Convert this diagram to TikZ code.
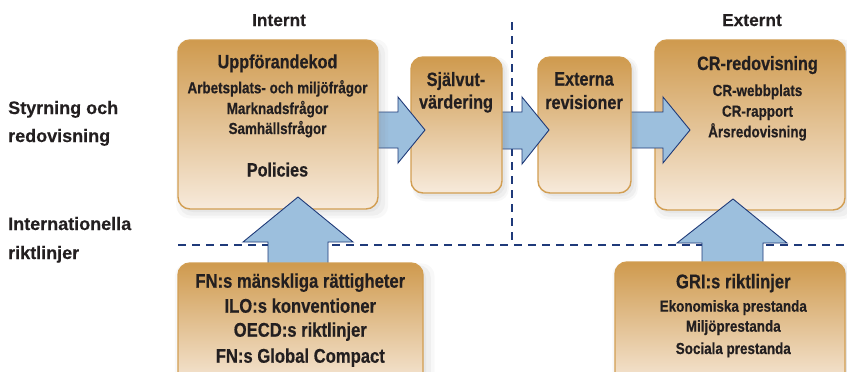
\documentclass[tikz,border=0pt]{standalone}
\usepackage{fontspec}
\setmainfont{Liberation Sans}[FakeStretch=0.84, BoldFeatures={FakeBold=0.5}]
\newfontfamily\lblfont{Liberation Sans}[BoldFeatures={FakeBold=0.3}]
\usetikzlibrary{shadows}
\definecolor{boxtop}{HTML}{CF9A4E}
\definecolor{boxbot}{HTML}{F7EADB}
\definecolor{boxline}{HTML}{D29E52}
\definecolor{arrfill}{HTML}{9CBFDD}
\definecolor{arrline}{HTML}{1F3A78}
\definecolor{dashc}{HTML}{1F3A7A}
\definecolor{txt}{HTML}{231F20}
\begin{document}
\begin{tikzpicture}[x=1pt,y=-1pt,
 crbox/.style={draw=boxline, line width=1.4pt, rounded corners=12pt, top color=boxtop, bottom color=boxbot, inner sep=0pt,
   drop shadow={shadow xshift=4pt,shadow yshift=-4pt,opacity=0.05,shadow scale=1.06},
   drop shadow={shadow xshift=4pt,shadow yshift=-4pt,opacity=0.07,shadow scale=1.03},
   drop shadow={shadow xshift=3pt,shadow yshift=-3pt,opacity=0.08,shadow scale=1.0}},
 blockarrow/.style={fill=arrfill, draw=arrline, line width=0.9pt, line join=miter},
 sepline/.style={draw=dashc, line width=1.6pt, dash pattern=on 8pt off 6pt},
 hd/.style={font=\bfseries\fontsize{19.3}{21}\selectfont, text=txt, anchor=base, inner sep=0pt},
 sm/.style={font=\bfseries\fontsize{16}{18}\selectfont, text=txt, anchor=base, inner sep=0pt},
 big/.style={font=\bfseries\fontsize{19.8}{21}\selectfont, text=txt, anchor=base, inner sep=0pt},
 lbl/.style={font=\lblfont\bfseries\fontsize{18}{20}\selectfont, text=txt, anchor=base west, inner sep=0pt},
 colhd/.style={font=\lblfont\bfseries\fontsize{17.3}{20}\selectfont, text=txt, anchor=base, inner sep=0pt},
]
\useasboundingbox (0,0) rectangle (847,372);
\clip (0,0) rectangle (847,372);
\fill[white] (0,0) rectangle (847,372);

% separators
\coordinate (hs) at (178,245);
\coordinate (he) at (847,245);
\coordinate (vs) at (512,22);
\coordinate (ve) at (512,243);
\draw[sepline] (hs) -- (he);
\draw[sepline] (vs) -- (ve);

% headers and side labels
\node[colhd] (internt) at (279,26) {Internt};
\node[colhd] (externt) at (752,26) {Externt};
\node[lbl] (styr1) at (8,114) {Styrning och};
\node[lbl] (styr2) at (8,142) {redovisning};
\node[lbl] (int1) at (8,230) {Internationella};
\node[lbl] (int2) at (8,259) {riktlinjer};

% CR box
\node[crbox, minimum width=190pt, minimum height=170pt] (cr) at (750,125) {};
% arrow ex -> cr
\draw[blockarrow] (625,112) -- (663,112) -- (663,97) -- (690,130) -- (663,163) -- (663,148) -- (625,148) -- cycle;
% Externa box
\node[crbox, minimum width=93pt, minimum height=136pt] (ex) at (584.5,125) {};
% arrow sv -> ex
\draw[blockarrow] (496,112) -- (522,112) -- (522,97) -- (549,130) -- (522,164) -- (522,149) -- (496,149) -- cycle;
% Sjalvutvardering box
\node[crbox, minimum width=91pt, minimum height=136pt] (sv) at (456.5,125) {};
% arrow uk -> sv
\draw[blockarrow] (372,112) -- (398,112) -- (398,97) -- (425,130) -- (398,163) -- (398,148) -- (372,148) -- cycle;
% Uppforandekod box
\node[crbox, minimum width=200pt, minimum height=169pt] (uk) at (278,124.5) {};

% up arrows
\draw[blockarrow] (268,270) -- (268,242) -- (243,242) -- (298,197) -- (353,242) -- (328,242) -- (328,270) -- cycle;
\draw[blockarrow] (702,270) -- (702,243) -- (677,243) -- (733,199) -- (787,243) -- (763,243) -- (763,270) -- cycle;

% bottom boxes
\node[crbox, minimum width=245pt, minimum height=127pt] (fn) at (300.5,326.5) {};
\node[crbox, minimum width=230pt, minimum height=128pt] (gri) at (730,326) {};

% texts
\node[hd] (ukt) at (277.5,68.3) {Uppförandekod};
\node[sm] (uk1) at (277.5,93.3) {Arbetsplats- och miljöfrågor};
\node[sm] (uk2) at (277.5,114) {Marknadsfrågor};
\node[sm] (uk3) at (277.5,134) {Samhällsfrågor};
\node[hd] (ukp) at (277.5,176.5) {Policies};

\node[hd] (sv1) at (456,86) {Självut-};
\node[hd] (sv2) at (456,108.5) {värdering};

\node[hd] (ex1) at (584,85.5) {Externa};
\node[hd] (ex2) at (584,109) {revisioner};

\node[hd] (crt) at (757.5,70) {CR-redovisning};
\node[sm] (cr1) at (757.5,96) {CR-webbplats};
\node[sm] (cr2) at (757.5,116.7) {CR-rapport};
\node[sm] (cr3) at (757.5,137.3) {Årsredovisning};

\node[big] (fn1) at (300.3,287.7) {FN:s mänskliga rättigheter};
\node[big] (fn2) at (300.3,312.7) {ILO:s konventioner};
\node[big] (fn3) at (300.3,336.7) {OECD:s riktlinjer};
\node[big] (fn4) at (300.3,362.7) {FN:s Global Compact};

\node[big] (grit) at (733.3,288.3) {GRI:s riktlinjer};
\node[sm] (gri1) at (733.3,311.7) {Ekonomiska prestanda};
\node[sm] (gri2) at (733.3,331.7) {Miljöprestanda};
\node[sm] (gri3) at (733.3,354) {Sociala prestanda};
\end{tikzpicture}
\end{document}
